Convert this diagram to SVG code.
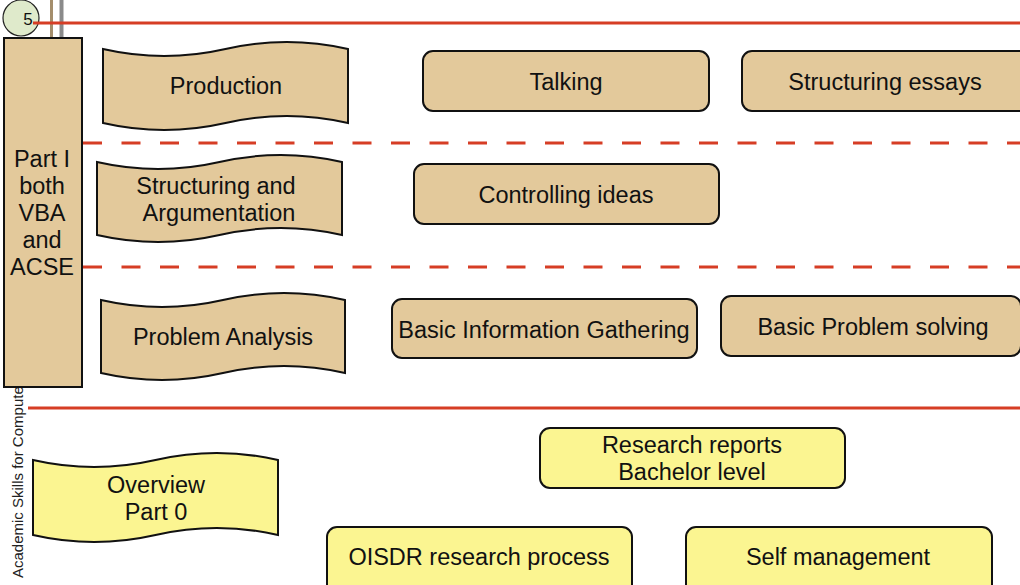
<svg xmlns="http://www.w3.org/2000/svg" width="1020" height="585" viewBox="0 0 1020 585">
<style>
.tan{fill:#e3c99b;stroke:#111;stroke-width:2}
.yel{fill:#fbf591;stroke:#111;stroke-width:2}
.t{font-family:"Liberation Sans",Arial,sans-serif;font-size:23.5px;fill:#111;text-anchor:middle}
.red{stroke:#d63d25;stroke-width:3;fill:none}
.dash{stroke:#d63d25;stroke-width:3;fill:none;stroke-dasharray:19 19.5}
</style>
<rect width="1020" height="585" fill="#fff"/>
<g id="side-label">
<text transform="translate(23,578) rotate(-90)" font-family="Liberation Sans,Arial,sans-serif" font-size="15" fill="#222">Academic Skills for Compute</text>
</g>
<g id="top-bars">
<line x1="51.5" y1="0" x2="51.5" y2="38" stroke="#a48e6c" stroke-width="3"/>
<line x1="61.5" y1="0" x2="61.5" y2="38" stroke="#8a8a8a" stroke-width="4"/>
</g>
<g id="page-num">
<circle cx="21" cy="18" r="18" fill="#dfeacb" stroke="#222" stroke-width="1.2"/>
<text x="28" y="25" font-family="Liberation Sans,Arial,sans-serif" font-size="17" fill="#111" text-anchor="middle">5</text>
</g>
<g id="connectors">
<line class="red" x1="33" y1="23" x2="1020" y2="23"/>
<line class="dash" x1="83" y1="143" x2="1020" y2="143"/>
<line class="dash" x1="83" y1="267" x2="1020" y2="267"/>
<line class="red" x1="28" y1="408" x2="1020" y2="408"/>
</g>
<g id="part1">
<rect class="tan" x="4" y="38" width="78" height="349"/>
<text class="t" x="42" y="167">Part I</text>
<text class="t" x="42" y="194">both</text>
<text class="t" x="42" y="221">VBA</text>
<text class="t" x="42" y="248">and</text>
<text class="t" x="42" y="275">ACSE</text>
</g>
<g id="production">
<path class="tan" d="M103,49 Q164.25,63 225.5,49 T348,49 L348,123 Q286.75,109 225.5,123 T103,123 Z"/>
<text class="t" x="226" y="94">Production</text>
</g>
<g id="talking">
<rect class="tan" x="423" y="51" width="286" height="60" rx="10"/>
<text class="t" x="566" y="90">Talking</text>
</g>
<g id="structuring-essays">
<rect class="tan" x="742" y="51" width="290" height="60" rx="10"/>
<text class="t" x="885" y="90">Structuring essays</text>
</g>
<g id="structuring-argumentation">
<path class="tan" d="M97,162 Q158.25,176 219.5,162 T342,162 L342,235 Q280.75,221 219.5,235 T97,235 Z"/>
<text class="t" x="216" y="194">Structuring and</text>
<text class="t" x="219" y="221">Argumentation</text>
</g>
<g id="controlling-ideas">
<rect class="tan" x="414" y="164" width="305" height="60" rx="10"/>
<text class="t" x="566" y="203">Controlling ideas</text>
</g>
<g id="problem-analysis">
<path class="tan" d="M101,300 Q162,314 223,300 T345,300 L345,373 Q284,359 223,373 T101,373 Z"/>
<text class="t" x="223" y="345">Problem Analysis</text>
</g>
<g id="basic-info">
<rect class="tan" x="392" y="299" width="305" height="59" rx="10"/>
<text class="t" x="544" y="338">Basic Information Gathering</text>
</g>
<g id="basic-problem">
<rect class="tan" x="721" y="296" width="300" height="60" rx="10"/>
<text class="t" x="873" y="335">Basic Problem solving</text>
</g>
<g id="research-reports">
<rect class="yel" x="540" y="428" width="305" height="60" rx="10"/>
<text class="t" x="692" y="453">Research reports</text>
<text class="t" x="692" y="480">Bachelor level</text>
</g>
<g id="overview">
<path class="yel" d="M33,460 Q94.25,474 155.5,460 T278,460 L278,535 Q216.75,521 155.5,535 T33,535 Z"/>
<text class="t" x="156" y="493">Overview</text>
<text class="t" x="156" y="520">Part 0</text>
</g>
<g id="oisdr">
<rect class="yel" x="327" y="527" width="305" height="70" rx="10"/>
<text class="t" x="479" y="565">OISDR research process</text>
</g>
<g id="self-management">
<rect class="yel" x="686" y="527" width="306" height="70" rx="10"/>
<text class="t" x="838" y="565">Self management</text>
</g>
</svg>
